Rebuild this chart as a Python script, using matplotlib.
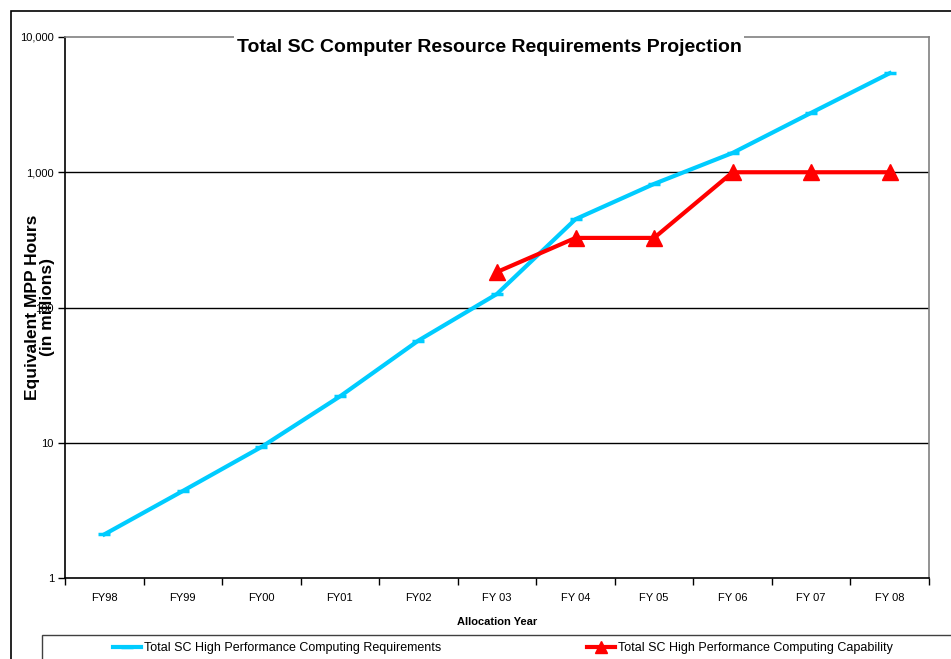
import matplotlib
matplotlib.use("Agg")
import matplotlib.pyplot as plt
from matplotlib.patches import Rectangle
from matplotlib.ticker import FixedLocator, NullFormatter, NullLocator

# データ
years = ["FY98", "FY99", "FY00", "FY01", "FY02", "FY 03", "FY 04", "FY 05", "FY 06", "FY 07", "FY 08"]
requirements = [2.1, 4.4, 9.3, 22, 57, 126, 450, 820, 1390, 2750, 5400]
capability_years = ["FY 03", "FY 04", "FY 05", "FY 06", "FY 07", "FY 08"]
capability = [183, 327, 327, 1000, 1000, 1000]
y_ticks = [1, 10, 100, 1000, 10000]
y_tick_labels = ["1", "10", "100", "1,000", "10,000"]

plt.rcParams["font.family"] = ["Liberation Sans Narrow", "Liberation Sans", "DejaVu Sans"]

W, H = 951, 659
fig = plt.figure(figsize=(W / 100, H / 100), dpi=100, facecolor="white")

# 外枠（チャートエリア）
fig.patches.append(Rectangle((11 / W, -0.1), 1.2, 1 - 11 / H + 0.1, transform=fig.transFigure,
                             facecolor="none", edgecolor="black", linewidth=1.2))

ax = fig.add_axes([65 / W, 1 - 578 / H, (929 - 65) / W, (578 - 37) / H])
ax.set_yscale("log")
ax.set_ylim(1, 10000)
ax.set_xlim(-0.5, len(years) - 0.5)

x_req = list(range(len(years)))
x_cap = [years.index(y) for y in capability_years]

line_req, = ax.plot(x_req, requirements, color="#00CCFF", linewidth=3, marker="_", markersize=9,
                    markeredgewidth=2.5, zorder=3)
line_cap, = ax.plot(x_cap, capability, color="#FF0000", linewidth=3, marker="^", markersize=11,
                    zorder=4)

# 目盛り
ax.yaxis.set_major_locator(FixedLocator(y_ticks))
ax.set_yticklabels(y_tick_labels)
ax.yaxis.set_minor_locator(NullLocator())
ax.yaxis.set_minor_formatter(NullFormatter())
for v in y_ticks[1:-1]:
    ax.axhline(v, color="black", linewidth=1, zorder=1)

ax.set_xticks([i - 0.5 for i in range(len(years) + 1)])
ax.set_xticklabels([])
ax.set_xticks(x_req, minor=True)
ax.set_xticklabels(years, minor=True)
ax.tick_params(axis="x", which="minor", length=0, pad=11, labelsize=8)
ax.tick_params(axis="x", which="major", length=5, width=1, direction="out")
ax.tick_params(axis="y", which="major", length=5, width=1, direction="out", labelsize=8, pad=3)

ax.spines["left"].set_color("black")
ax.spines["bottom"].set_color("black")
ax.spines["top"].set_color("#808080")
ax.spines["right"].set_color("#808080")
for s in ax.spines.values():
    s.set_linewidth(1.2)

ax.set_xlabel("Allocation Year", fontsize=8, fontweight="bold", labelpad=10)
ax.set_ylabel("Equivalent MPP Hours\n(in millions)", fontsize=12.5, fontweight="bold",
              linespacing=0.95)
ax.yaxis.set_label_coords(-0.012, 0.5)

fig.text(489 / W, 1 - 47 / H, "Total SC Computer Resource Requirements Projection",
         ha="center", va="center", fontsize=14, fontweight="bold",
         bbox=dict(boxstyle="square,pad=0.15", fc="white", ec="none"))

# 凡例
fig.patches.append(Rectangle((42 / W, -0.1), 1.2, 0.1 + 1 - 635 / H, transform=fig.transFigure,
                             facecolor="white", edgecolor="#404040", linewidth=1))
fig.legend([line_req], ["Total SC High Performance Computing Requirements"],
           loc="center left", bbox_to_anchor=(113 / W, 1 - 648 / H), frameon=False,
           fontsize=9, handlelength=2.2, handletextpad=0.3, borderaxespad=0, borderpad=0)
fig.legend([line_cap], ["Total SC High Performance Computing Capability"],
           loc="center left", bbox_to_anchor=(587 / W, 1 - 648 / H), frameon=False,
           fontsize=9, handlelength=2.2, handletextpad=0.3, borderaxespad=0, borderpad=0,
           markerscale=0.8)

fig.savefig("out.png", dpi=100, facecolor="white")
